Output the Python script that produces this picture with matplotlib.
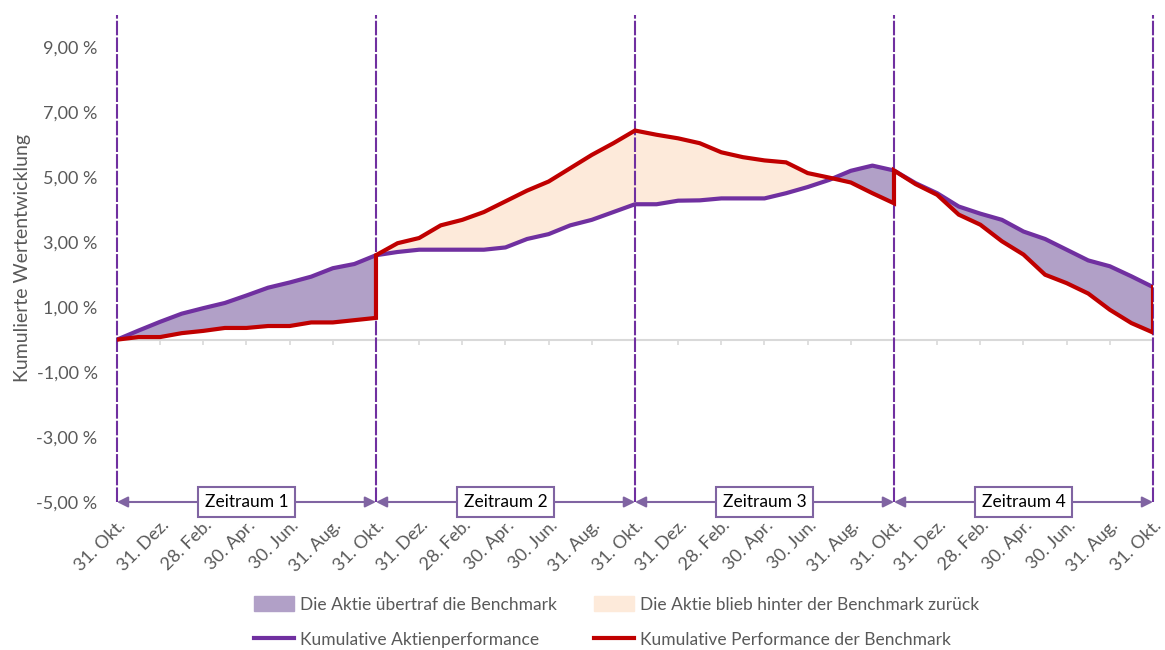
import matplotlib
matplotlib.use("Agg")
import matplotlib.pyplot as plt
import matplotlib.transforms as mtransforms
import numpy as np

plt.rcParams['font.family'] = ['Lato', 'DejaVu Sans']

# monthly values, 4 periods of 12 months
stock = [0.00, 0.28, 0.55, 0.80, 0.97, 1.13, 1.36, 1.60, 1.76, 1.94, 2.20, 2.33, 2.60,
         2.70, 2.77, 2.77, 2.77, 2.77, 2.84, 3.10, 3.25, 3.52, 3.69, 3.93, 4.17,
         4.17, 4.28, 4.29, 4.35, 4.35, 4.35, 4.51, 4.70, 4.92, 5.20, 5.36, 5.21,
         4.82, 4.51, 4.10, 3.88, 3.69, 3.33, 3.10, 2.77, 2.44, 2.26, 1.95, 1.62]

bench_p1 = [0.00, 0.08, 0.08, 0.20, 0.27, 0.36, 0.36, 0.42, 0.42, 0.53, 0.53, 0.60, 0.67]
bench_p2 = [2.60, 2.97, 3.13, 3.52, 3.69, 3.93, 4.26, 4.59, 4.87, 5.28, 5.69, 6.05, 6.44]
bench_p3 = [6.44, 6.31, 6.20, 6.05, 5.77, 5.62, 5.52, 5.46, 5.13, 4.99, 4.84, 4.51, 4.20]
bench_p4 = [5.21, 4.79, 4.46, 3.85, 3.54, 3.03, 2.62, 2.00, 1.74, 1.42, 0.92, 0.51, 0.22]

months = ["31. Okt.", "31. Dez.", "28. Feb.", "30. Apr.", "30. Jun.", "31. Aug."]
tick_labels = months * 4 + ["31. Okt."]
periods = ["Zeitraum 1", "Zeitraum 2", "Zeitraum 3", "Zeitraum 4"]
y_ticks = [-5, -3, -1, 1, 3, 5, 7, 9]

purple = '#7030A0'
red = '#C00000'
fill_out = '#B1A0C7'
fill_under = '#FDEADA'
arrow_col = '#8064A2'
grey = '#595959'

benches = [bench_p1, bench_p2, bench_p3, bench_p4]
x_all = np.arange(len(stock))

fig = plt.figure(figsize=(11.65, 6.5), dpi=100)
ax = fig.add_axes([0.1004, 0.2277, 0.8893, 0.7493])

# fills between stock and benchmark per period
red_x, red_y = [], []
for i, b in enumerate(benches):
    xs = x_all[i * 12:i * 12 + 13]
    s = np.array(stock[i * 12:i * 12 + 13])
    b = np.array(b)
    ax.fill_between(xs, s, b, where=s >= b, interpolate=True, color=fill_out, lw=0, zorder=1)
    ax.fill_between(xs, s, b, where=s <= b, interpolate=True, color=fill_under, lw=0, zorder=1)
    red_x += list(xs)
    red_y += list(b)
red_x.append(x_all[-1])
red_y.append(stock[-1])

# zero line with small ticks
ax.axhline(0, color='#D9D9D9', lw=1.5, zorder=0)
ax.vlines(x_all[::2], -0.18, 0, color='#D9D9D9', lw=1.2, zorder=0)

ax.plot(x_all, stock, color=purple, lw=3, solid_joinstyle='round', zorder=3)
ax.plot(red_x, red_y, color=red, lw=3, solid_joinstyle='miter', zorder=4)

# period boundaries
bounds = x_all[::12]
ax.vlines(bounds, -5, 10, color=purple, lw=1.5, linestyles=(0, (7, 1)), zorder=2, clip_on=False)

# period arrows and labels
for i, name in enumerate(periods):
    a, b = bounds[i], bounds[i + 1]
    ax.annotate('', xy=(b, -5), xytext=(a, -5),
                arrowprops=dict(arrowstyle='<|-|>', color=arrow_col, lw=1.5,
                                mutation_scale=16, shrinkA=0, shrinkB=0),
                annotation_clip=False, zorder=5)
    ax.text((a + b) / 2, -5, name, ha='center', va='center', fontsize=12.5, color='black',
            bbox=dict(boxstyle='square,pad=0.4', fc='white', ec=arrow_col, lw=1.5), zorder=6)

ax.set_xlim(0, 48)
ax.set_ylim(-5, 10)
ax.set_yticks(y_ticks)
ax.set_yticklabels([("%.2f %%" % v).replace('.', ',') for v in y_ticks])
ax.tick_params(axis='y', length=0, labelsize=13, labelcolor=grey, pad=14)
ax.set_xticks(x_all[::2])
ax.set_xticklabels(tick_labels, rotation=45, ha='right', va='center',
                   rotation_mode='anchor', fontsize=13, color=grey)
ax.tick_params(axis='x', length=0, pad=15)
offset = mtransforms.ScaledTranslation(6 / 100, 0, fig.dpi_scale_trans)
for lab in ax.get_xticklabels():
    lab.set_transform(lab.get_transform() + offset)
for sp in ax.spines.values():
    sp.set_visible(False)
ax.set_ylabel("Kumulierte Wertentwicklung", fontsize=14, color=grey, labelpad=4)

# legend
h1 = plt.Rectangle((0, 0), 1, 1, color=fill_out)
h2 = plt.Rectangle((0, 0), 1, 1, color=fill_under)
h3, = ax.plot([], [], color=purple, lw=3)
h4, = ax.plot([], [], color=red, lw=3)
leg = fig.legend([h1, h3, h2, h4],
                 ["Die Aktie übertraf die Benchmark", "Kumulative Aktienperformance",
                  "Die Aktie blieb hinter der Benchmark zurück", "Kumulative Performance der Benchmark"],
                 ncol=2, loc='center', bbox_to_anchor=(0.529, 0.043), frameon=False,
                 fontsize=12.5, labelcolor=grey, handlelength=2.3, handleheight=1.0,
                 handletextpad=0.35, columnspacing=2.15, labelspacing=1.1)

fig.savefig("out.png", dpi=100)
